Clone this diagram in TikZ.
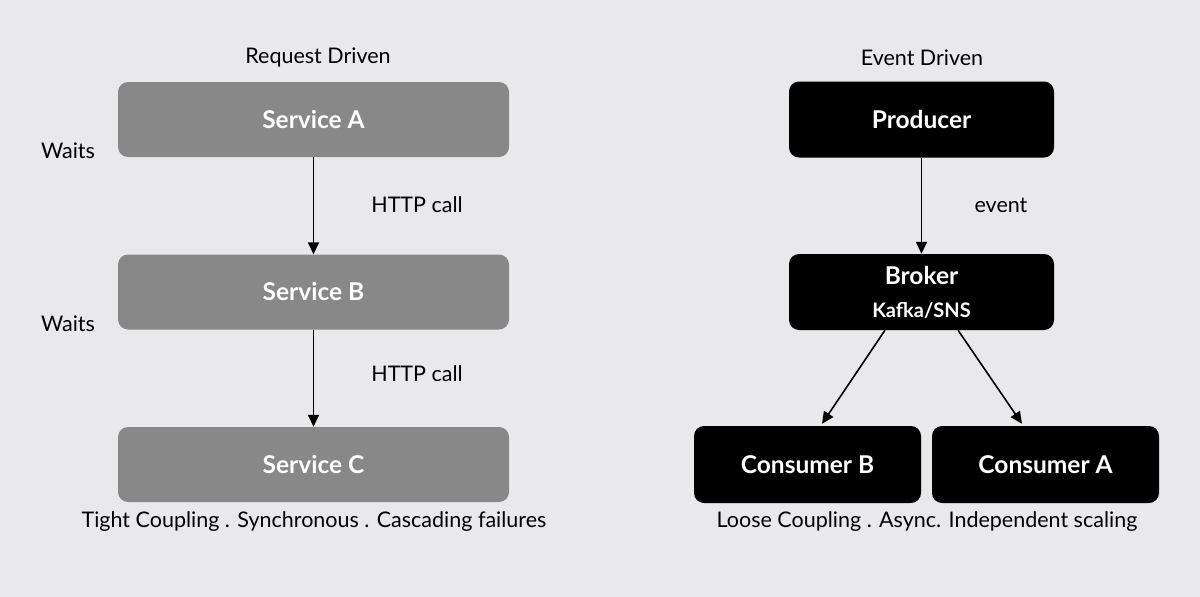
\documentclass[tikz,border=0pt]{standalone}
\usepackage{fontspec}
\setmainfont{Lato}
\usetikzlibrary{arrows.meta}
\definecolor{bggray}{HTML}{E9E9EB}
\definecolor{servicegray}{HTML}{888888}

\begin{document}
\begin{tikzpicture}[
        x=1pt, y=-1pt,
        box/.style={rounded corners=10pt, text=white, inner sep=0pt, align=center,
            font=\fontsize{24.5}{29}\selectfont\bfseries},
        service/.style={box, fill=servicegray, minimum width=391pt, minimum height=75pt},
        eventbox/.style={box, fill=black, minimum width=265pt, minimum height=76pt},
        consumer/.style={box, fill=black, minimum width=227pt, minimum height=77pt},
        note/.style={font=\fontsize{21.5}{25}\selectfont, text=black, inner sep=0pt},
        flow/.style={draw, line width=1.6pt, -{Triangle[length=12pt,width=11pt]}},
    ]
    \fill[bggray] (0,0) rectangle (1200,597);
    \useasboundingbox (0,0) rectangle (1200,597);

    % request driven
    \node[note](reqtitle) at (318,58){Request Driven};
    \node[service](serviceA) at (313.5,119.5){Service A};
    \node[service](serviceB) at (313.5,292){Service B};
    \node[service](serviceC) at (313.5,464.5){Service C};
    \node[note](waitsA) at (68,151){Waits};
    \node[note](waitsB) at (68,324){Waits};
    \node[note](httpA) at (417,205){HTTP call};
    \node[note](httpB) at (417,374){HTTP call};
    \node[note](reqfoot) at (314,522){Tight Coupling . Synchronous . Cascading failures};
    \draw[flow] (serviceA) -- (serviceB);
    \draw[flow] (serviceB) -- (serviceC);

    % event driven
    \node[note](evttitle) at (922,58){Event Driven};
    \node[eventbox](producer) at (921.5,119.5){Producer};
    \node[eventbox](broker) at (921.5,292){Broker\\[4pt]{\fontsize{20}{24}\selectfont Kafka/SNS}};
    \node[consumer](consumerB) at (807.5,464.5){Consumer B};
    \node[consumer](consumerA) at (1045.5,464.5){Consumer A};
    \node[note](eventlbl) at (1001,205){event};
    \node[note](evtfoot) at (927,522){Loose Coupling . Async. Independent scaling};
    \draw[flow] (producer) -- (broker);
    \draw[flow] ([xshift=-36.5pt]broker.south) -- ([xshift=14.5pt,yshift=2pt]consumerB.north);
    \draw[flow] ([xshift=36.5pt]broker.south) -- ([xshift=-23.5pt,yshift=2pt]consumerA.north);
\end{tikzpicture}
\end{document}
